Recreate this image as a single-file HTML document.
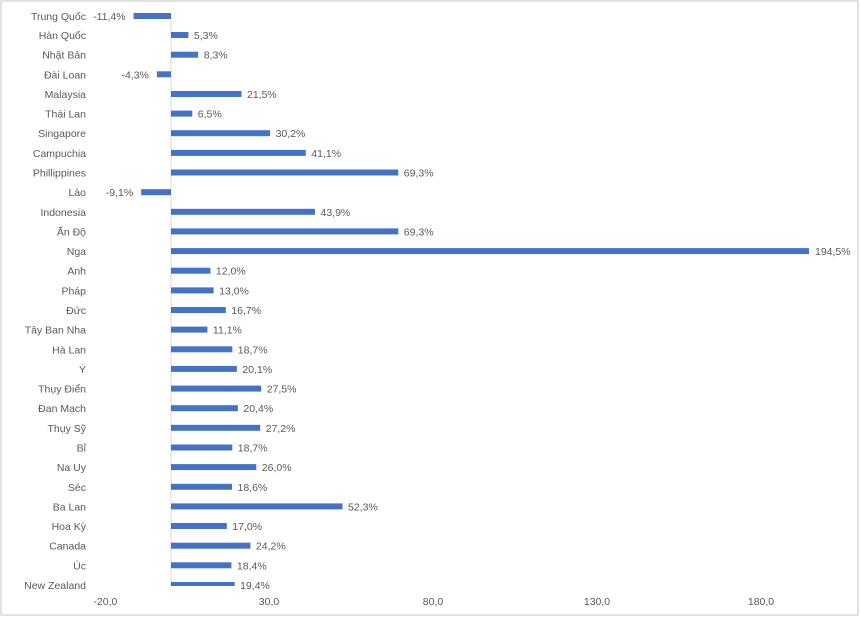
<!DOCTYPE html>
<html><head><meta charset="utf-8"><style>
html,body{margin:0;padding:0;background:#fff;}
svg{display:block;}
text{font-family:"Liberation Sans",sans-serif;font-size:10.5px;fill:#595959;}
</style></head><body>
<svg width="860" height="617" viewBox="0 0 860 617" xmlns="http://www.w3.org/2000/svg">
<rect x="1" y="1" width="857" height="614" fill="#fff" stroke="#d9d9d9" stroke-width="1.5"/>
<line x1="171" y1="14" x2="171" y2="587" stroke="#d9d9d9" stroke-width="1"/>
<g fill="#4472C4">
<rect x="133.6" y="13" width="37.4" height="6"/>
<rect x="171" y="32" width="17.4" height="6"/>
<rect x="171" y="51.7" width="27.2" height="6"/>
<rect x="156.9" y="71.3" width="14.1" height="6"/>
<rect x="171" y="91" width="70.5" height="6"/>
<rect x="171" y="110.6" width="21.3" height="6"/>
<rect x="171" y="130.2" width="99.1" height="6"/>
<rect x="171" y="149.9" width="134.8" height="6"/>
<rect x="171" y="169.5" width="227.3" height="6"/>
<rect x="141.2" y="189.2" width="29.8" height="6"/>
<rect x="171" y="208.8" width="144" height="6"/>
<rect x="171" y="228.4" width="227.3" height="6"/>
<rect x="171" y="248.1" width="638" height="6"/>
<rect x="171" y="267.7" width="39.4" height="6"/>
<rect x="171" y="287.4" width="42.6" height="6"/>
<rect x="171" y="307" width="54.8" height="6"/>
<rect x="171" y="326.6" width="36.4" height="6"/>
<rect x="171" y="346.3" width="61.3" height="6"/>
<rect x="171" y="365.9" width="65.9" height="6"/>
<rect x="171" y="385.6" width="90.2" height="6"/>
<rect x="171" y="405.2" width="66.9" height="6"/>
<rect x="171" y="424.8" width="89.2" height="6"/>
<rect x="171" y="444.5" width="61.3" height="6"/>
<rect x="171" y="464.1" width="85.3" height="6"/>
<rect x="171" y="483.8" width="61" height="6"/>
<rect x="171" y="503.4" width="171.5" height="6"/>
<rect x="171" y="523" width="55.8" height="6"/>
<rect x="171" y="542.7" width="79.4" height="6"/>
<rect x="171" y="562.3" width="60.4" height="6"/>
<rect x="171" y="582" width="63.6" height="4"/>
</g>
<g text-anchor="end">
<text x="86" y="20">Trung Quốc</text>
<text x="86" y="39">Hàn Quốc</text>
<text x="86" y="58.7">Nhật Bản</text>
<text x="86" y="78.3">Đài Loan</text>
<text x="86" y="98">Malaysia</text>
<text x="86" y="117.6">Thái Lan</text>
<text x="86" y="137.2">Singapore</text>
<text x="86" y="156.9">Campuchia</text>
<text x="86" y="176.5">Phillippines</text>
<text x="86" y="196.2">Lào</text>
<text x="86" y="215.8">Indonesia</text>
<text x="86" y="235.4">Ấn Độ</text>
<text x="86" y="255.1">Nga</text>
<text x="86" y="274.7">Anh</text>
<text x="86" y="294.4">Pháp</text>
<text x="86" y="314">Đức</text>
<text x="86" y="333.6">Tây Ban Nha</text>
<text x="86" y="353.3">Hà Lan</text>
<text x="86" y="372.9">Ý</text>
<text x="86" y="392.6">Thụy Điển</text>
<text x="86" y="412.2">Đan Mạch</text>
<text x="86" y="431.8">Thụy Sỹ</text>
<text x="86" y="451.5">Bỉ</text>
<text x="86" y="471.1">Na Uy</text>
<text x="86" y="490.8">Séc</text>
<text x="86" y="510.4">Ba Lan</text>
<text x="86" y="530">Hoa Kỳ</text>
<text x="86" y="549.7">Canada</text>
<text x="86" y="569.3">Úc</text>
<text x="86" y="589">New Zealand</text>
<text x="125.6" y="20">-11,4%</text>
<text x="148.9" y="78.3">-4,3%</text>
<text x="133.2" y="196.2">-9,1%</text>
</g>
<g>
<text x="193.9" y="39">5,3%</text>
<text x="203.7" y="58.7">8,3%</text>
<text x="247" y="98">21,5%</text>
<text x="197.8" y="117.6">6,5%</text>
<text x="275.6" y="137.2">30,2%</text>
<text x="311.3" y="156.9">41,1%</text>
<text x="403.8" y="176.5">69,3%</text>
<text x="320.5" y="215.8">43,9%</text>
<text x="403.8" y="235.4">69,3%</text>
<text x="815" y="255.1">194,5%</text>
<text x="215.9" y="274.7">12,0%</text>
<text x="219.1" y="294.4">13,0%</text>
<text x="231.3" y="314">16,7%</text>
<text x="212.9" y="333.6">11,1%</text>
<text x="237.8" y="353.3">18,7%</text>
<text x="242.4" y="372.9">20,1%</text>
<text x="266.7" y="392.6">27,5%</text>
<text x="243.4" y="412.2">20,4%</text>
<text x="265.7" y="431.8">27,2%</text>
<text x="237.8" y="451.5">18,7%</text>
<text x="261.8" y="471.1">26,0%</text>
<text x="237.5" y="490.8">18,6%</text>
<text x="348" y="510.4">52,3%</text>
<text x="232.3" y="530">17,0%</text>
<text x="255.9" y="549.7">24,2%</text>
<text x="236.9" y="569.3">18,4%</text>
<text x="240.1" y="589">19,4%</text>
</g>
<g text-anchor="middle">
<text x="105.4" y="605">-20,0</text>
<text x="269" y="605">30,0</text>
<text x="433" y="605">80,0</text>
<text x="597" y="605">130,0</text>
<text x="761" y="605">180,0</text>
</g>
</svg>
</body></html>
